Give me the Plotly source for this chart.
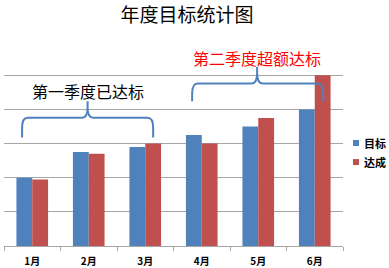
import plotly.graph_objects as go

months = ["1月", "2月", "3月", "4月", "5月", "6月"]
target = [20, 27.5, 29, 32.5, 35, 40]
actual = [19.5, 27, 30, 30, 37.5, 50]
series_names = ["目标", "达成"]

blue = "#4F81BD"
red = "#C0504D"
font = "Noto Sans CJK SC"

fig = go.Figure()
fig.add_trace(go.Bar(name=series_names[0], x=months, y=target, marker=dict(color=blue, line=dict(width=0))))
fig.add_trace(go.Bar(name=series_names[1], x=months, y=actual, marker=dict(color=red, line=dict(width=0))))


def brace(x0, x1, cx, yE, yH, yT, rx=0.1, c=3.0):
    return (f"M {x0},{yE} L {x0},{yH - c} Q {x0},{yH} {x0 + rx},{yH} "
            f"L {cx - rx},{yH} Q {cx},{yH} {cx},{yH + c} L {cx},{yT} "
            f"M {cx},{yH + c} Q {cx},{yH} {cx + rx},{yH} "
            f"L {x1 - rx},{yH} Q {x1},{yH} {x1},{yH - c} L {x1},{yE}")


fig.add_shape(type="path", xref="x", yref="y",
              path=brace(-0.18, 2.14, 0.98, 31.8, 37.6, 42.4),
              line=dict(color=blue, width=2))
fig.add_shape(type="path", xref="x", yref="y",
              path=brace(2.83, 5.15, 3.98, 42.4, 47.6, 52.4),
              line=dict(color=blue, width=2))

fig.add_annotation(x=0.98, y=45.5, xref="x", yref="y", text="第一季度已达标",
                   showarrow=False, font=dict(family=font, size=16, color="#000000"))
fig.add_annotation(x=3.98, y=55.2, xref="x", yref="y", text="第二季度超额达标",
                   showarrow=False, font=dict(family=font, size=16, color="#FF0000"))

# legend (drawn manually to match tight symbol/text spacing)
for name, col, y0, y1, ty in [(series_names[0], blue, 0.4878, 0.517, 0.502),
                              (series_names[1], red, 0.395, 0.424, 0.41)]:
    fig.add_shape(type="rect", xref="paper", yref="paper", x0=1.0295, x1=1.0472,
                  y0=y0, y1=y1, fillcolor=col, line=dict(width=0))
    fig.add_annotation(x=1.056, y=ty, xref="paper", yref="paper", text=name,
                       xanchor="left", yanchor="middle", showarrow=False,
                       font=dict(family=font, size=11, color="#000000", weight="bold"))

fig.update_layout(
    width=389, height=268,
    margin=dict(l=4, r=46, t=41, b=22, autoexpand=False),
    paper_bgcolor="white", plot_bgcolor="white",
    barmode="group", bargap=0.44, bargroupgap=0,
    title=dict(text="年度目标统计图", x=187 / 389, xref="container", xanchor="center",
               y=1 - 15 / 268, yref="container", yanchor="middle",
               font=dict(family=font, size=19, color="#000000")),
    showlegend=False,
    xaxis=dict(type="category", showline=True, linecolor="#A6A6A6", linewidth=1,
               ticks="outside", tickson="boundaries", ticklen=4, tickcolor="#A6A6A6",
               ticklabelstandoff=6,
               tickfont=dict(family=font, size=10, color="#000000", weight="bold"),
               showgrid=False),
    yaxis=dict(range=[0, 60.05], dtick=10, showgrid=True, gridcolor="#A6A6A6", gridwidth=1,
               showticklabels=False, zeroline=False, showline=False),
    font=dict(family=font),
)

fig.write_html("out.html")
